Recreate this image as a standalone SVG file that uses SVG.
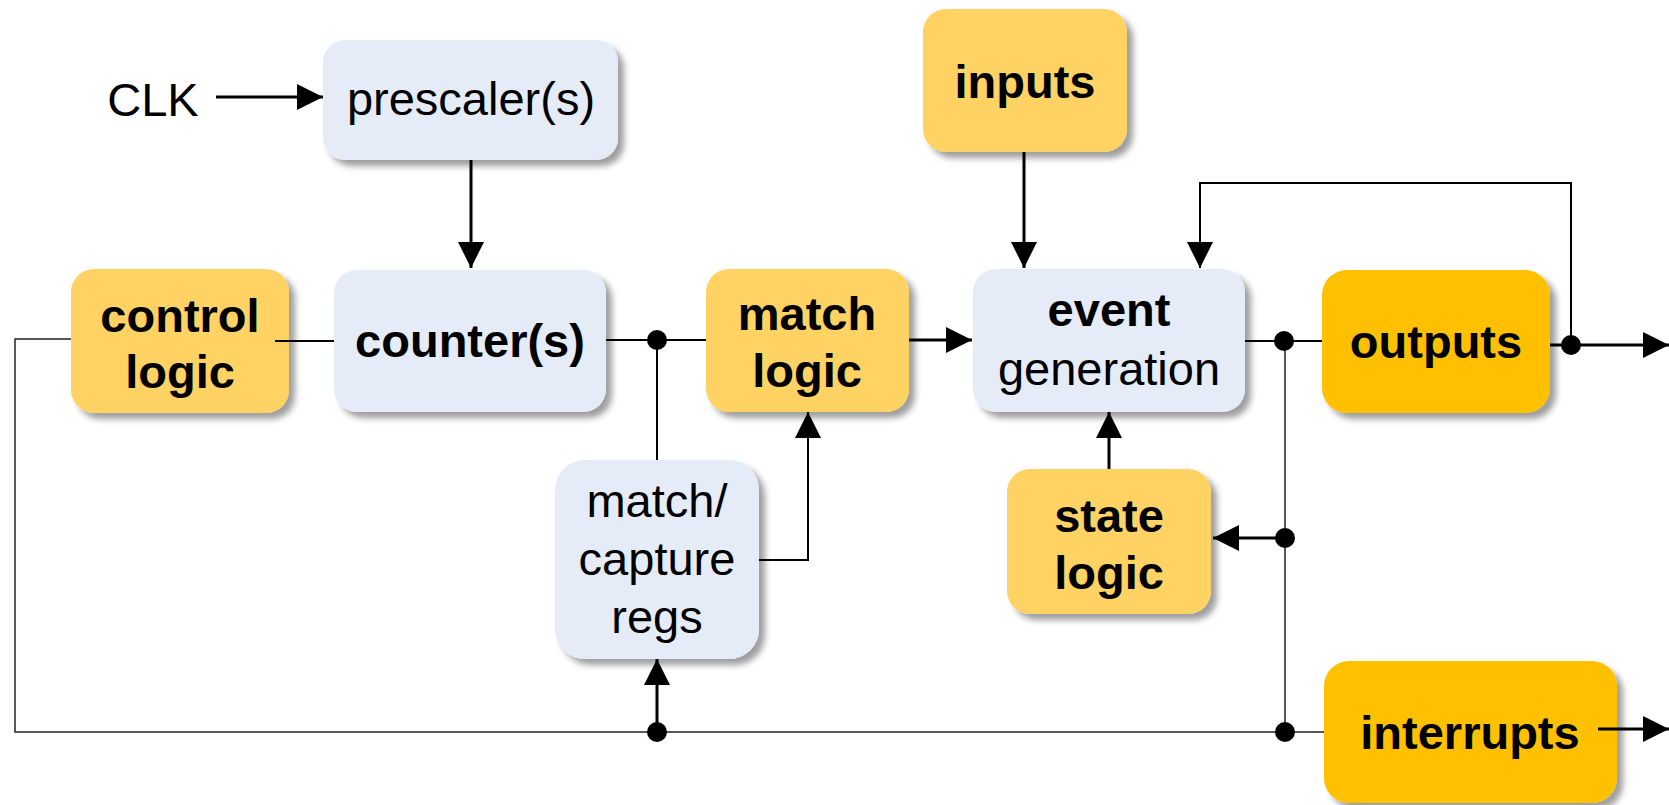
<svg xmlns="http://www.w3.org/2000/svg" width="1669" height="805" viewBox="0 0 1669 805">
<style>
.box{stroke:none;filter:url(#sh)}
.blue{fill:#E5ECF7}
.yel{fill:#FED263}
.org{fill:#FFC000}
text{font-family:"Liberation Sans",Arial,sans-serif;font-size:47px;fill:#000;text-anchor:middle}
.b{font-weight:bold}
.ln{fill:none;stroke:#000;stroke-width:2}
.th{fill:none;stroke:#000;stroke-width:3}
.tn{fill:none;stroke:#222;stroke-width:1.5}
.arr{marker-end:url(#ah)}
.dot{fill:#000}
</style>
<defs>
<filter id="sh" x="-10%" y="-10%" width="130%" height="130%">
<feDropShadow dx="6" dy="6" stdDeviation="3" flood-color="#000" flood-opacity="0.38"/>
</filter>
<marker id="ah" markerUnits="userSpaceOnUse" markerWidth="26" markerHeight="26" refX="26" refY="13" orient="auto">
<path d="M0,0 L26,13 L0,26 z" fill="#000"/>
</marker>
</defs>

<g id="clk"><text x="153" y="116">CLK</text></g>

<g id="prescaler">
<rect class="box blue" x="323" y="40" width="295" height="120" rx="22"/>
<text x="471" y="115">prescaler(s)</text>
</g>

<g id="control-logic">
<rect class="box yel" x="71" y="269" width="218" height="144" rx="23"/>
<text class="b" x="180" y="332">control</text>
<text class="b" x="180" y="388">logic</text>
</g>

<g id="counter">
<rect class="box blue" x="334" y="270" width="272" height="142" rx="23"/>
<text class="b" x="470" y="357">counter(s)</text>
</g>

<g id="match-logic">
<rect class="box yel" x="706" y="269" width="203" height="143" rx="23"/>
<text class="b" x="807" y="330">match</text>
<text class="b" x="807" y="387">logic</text>
</g>

<g id="match-capture">
<rect class="box blue" x="555" y="460" width="204" height="199" rx="30"/>
<text x="657" y="517">match/</text>
<text x="657" y="575">capture</text>
<text x="657" y="633">regs</text>
</g>

<g id="inputs">
<rect class="box yel" x="923" y="9" width="204" height="143" rx="23"/>
<text class="b" x="1025" y="98">inputs</text>
</g>

<g id="event-generation">
<rect class="box blue" x="973" y="269" width="272" height="143" rx="23"/>
<text class="b" x="1109" y="326">event</text>
<text x="1109" y="385">generation</text>
</g>

<g id="outputs">
<rect class="box org" x="1322" y="270" width="228" height="143" rx="25"/>
<text class="b" x="1436" y="358">outputs</text>
</g>

<g id="state-logic">
<rect class="box yel" x="1007" y="469" width="204" height="145" rx="23"/>
<text class="b" x="1109" y="532">state</text>
<text class="b" x="1109" y="589">logic</text>
</g>

<g id="interrupts">
<rect class="box org" x="1324" y="661" width="293" height="142" rx="25"/>
<text class="b" x="1470" y="749">interrupts</text>
</g>

<g id="connectors">
<path class="th arr" d="M216,97 H323"/>
<path class="th arr" d="M471,160 V268"/>
<path class="ln" d="M275,341 H334"/>
<path class="ln" d="M606,340 H706"/>
<path class="ln" d="M657,340 V460"/>
<path class="th arr" d="M909,340 H972"/>
<path class="ln arr" d="M759,560 H808 V412"/>
<path class="th arr" d="M657,732 V659"/>
<path class="tn" d="M71,339 H15 V732 H1324"/>
<path class="th arr" d="M1024,152 V268"/>
<path class="ln arr" d="M1571,345 V183 H1200 V268"/>
<path class="ln" d="M1245,341 H1322"/>
<path class="th arr" d="M1550,345 H1669"/>
<path class="tn" d="M1285,341 V732"/>
<path class="th arr" d="M1285,538 H1213"/>
<path class="th arr" d="M1109,469 V412"/>
<path class="th arr" d="M1598,729 H1669"/>
<circle class="dot" cx="657" cy="340" r="10"/>
<circle class="dot" cx="657" cy="732" r="10"/>
<circle class="dot" cx="1284" cy="341" r="10"/>
<circle class="dot" cx="1285" cy="538" r="10"/>
<circle class="dot" cx="1285" cy="732" r="10"/>
<circle class="dot" cx="1571" cy="345" r="10"/>
</g>
</svg>
